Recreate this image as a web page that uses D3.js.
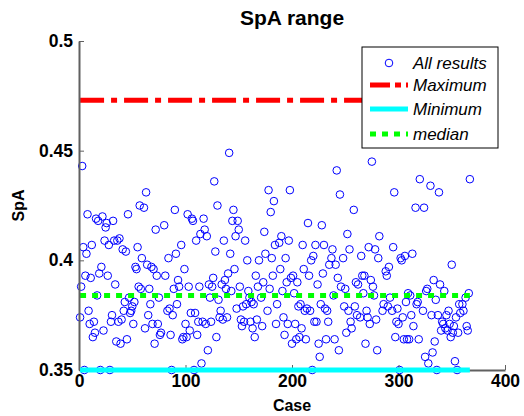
<!DOCTYPE html>
<html>
<head>
<meta charset="utf-8">
<script src="https://cdn.jsdelivr.net/npm/d3@7"></script>
<style>
  html, body { margin: 0; padding: 0; background: #fff; }
  svg { display: block; font-family: Arial, "Liberation Sans", Helvetica, sans-serif; }
</style>
</head>
<body>
<svg id="chart" width="524" height="416"></svg>
<script>
// Case numbers and the SpA value obtained for each case
const caseNo = [
  1,2,3,4,5,6,7,8,9,10,11,12,13,14,15,16,17,18,19,20,
  21,22,23,24,25,26,27,28,29,30,31,32,33,34,35,36,37,38,39,40,
  41,42,43,44,45,46,47,48,49,50,51,52,53,54,55,56,57,58,59,61,
  62,63,64,65,66,67,68,69,70,71,72,73,74,75,76,77,80,81,83,84,
  85,86,87,88,89,90,91,92,93,94,96,97,98,99,100,101,102,103,104,105,
  106,107,108,109,110,111,112,113,114,115,116,117,118,119,120,121,122,123,124,125,
  126,127,128,129,130,131,132,133,134,135,136,137,138,139,140,141,142,143,144,145,
  146,147,148,149,150,151,152,153,154,155,156,157,158,159,160,161,162,163,164,165,
  166,167,168,169,171,172,173,174,175,177,178,179,180,181,182,183,184,185,186,188,
  189,190,191,192,193,194,195,196,197,198,199,200,201,202,203,204,205,206,207,208,
  209,210,211,212,213,214,215,216,217,218,219,220,221,222,223,224,225,226,227,228,
  229,230,231,232,233,234,235,237,238,239,240,241,242,243,244,245,246,248,249,250,
  251,252,253,254,255,256,258,259,260,261,262,264,265,266,267,268,269,270,271,272,
  273,274,275,276,277,278,279,280,281,282,285,286,288,289,290,291,292,294,295,296,
  297,298,299,300,301,302,303,304,305,306,307,308,309,310,311,312,313,314,316,317,
  318,319,320,323,324,325,326,327,328,330,331,332,333,334,335,336,337,338,339,340,
  341,342,343,344,345,346,347,348,349,350,351,352,353,354,355,356,357,358,360,361,
  363,364,365,366,367
];
const spa = [
  .374,.388,.443,.406,.350,.393,.403,.421,.377,.371,.392,.407,.365,.372,.367,.419,.384,.418,.394,.350,
  .397,.420,.368,.409,.415,.417,.393,.407,.350,.372,.375,.418,.409,.389,.363,.409,.372,.410,.362,.373,
  .405,.377,.381,.404,.364,.421,.383,.376,.377,.379,.371,.381,.397,.396,.406,.388,.425,.387,.401,.424,
  .369,.431,.398,.375,.387,.380,.397,.371,.396,.362,.414,.393,.371,.383,.366,.367,.416,.393,.377,.401,
  .378,.366,.350,.375,.387,.423,.403,.380,.391,.388,.407,.364,.365,.396,.371,.365,.421,.388,.368,.376,
  .419,.418,.350,.376,.409,.366,.372,.388,.412,.353,.372,.419,.414,.371,.411,.359,.389,.383,.372,.388,
  .392,.436,.404,.365,.425,.382,.374,.377,.389,.373,.409,.391,.387,.374,.394,.449,.403,.386,.418,.423,
  .396,.411,.378,.418,.414,.388,.373,.370,.379,.372,.409,.380,.400,.386,.383,.372,.381,.369,.380,.365,
  .393,.373,.388,.400,.383,.370,.390,.413,.403,.377,.432,.387,.422,.401,.393,.427,.407,.371,.380,.408,
  .396,.411,.386,.374,.366,.401,.390,.371,.409,.432,.392,.362,.393,.385,.371,.364,.390,.379,.365,.380,
  .369,.407,.396,.377,.364,.378,.417,.393,.377,.400,.350,.402,.372,.407,.372,.389,.362,.356,.380,.416,
  .394,.407,.378,.364,.377,.372,.398,.401,.405,.384,.364,.398,.441,.392,.359,.430,.388,.401,.379,.387,
  .367,.412,.377,.405,.372,.369,.423,.379,.390,.375,.389,.374,.402,.393,.385,.393,.362,.377,.374,.406,
  .371,.391,.445,.388,.384,.405,.373,.359,.401,.411,.377,.380,.395,.393,.379,.397,.383,.377,.406,.431,
  .365,.372,.378,.371,.350,.401,.400,.374,.364,.402,.381,.364,.385,.364,.384,.375,.403,.370,.424,.380,
  .381,.364,.437,.377,.424,.356,.386,.387,.353,.434,.375,.358,.391,.363,.382,.350,.375,.431,.389,.368,
  .372,.371,.386,.369,.375,.368,.377,.371,.365,.398,.367,.370,.354,.374,.350,.367,.380,.376,.380,.377,
  .383,.370,.368,.385,.437
];

// Reference levels
const maximumSpA = 0.473;
const minimumSpA = 0.350;
const medianSpA  = 0.384;

// Axis ticks
const xTicks = [0, 100, 200, 300, 400];
const yTicks = [0.35, 0.4, 0.45, 0.5];
const yTickLabels = ["0.35", "0.4", "0.45", "0.5"];

const legendLabels = ["All results", "Maximum", "Minimum", "median"];

const svg = d3.select("#chart");
const plotL = 79, plotR = 505, plotT = 41, plotB = 370;

const x = d3.scaleLinear().domain([0, 400]).range([plotL, plotR]);
const y = d3.scaleLinear().domain([0.35, 0.5]).range([plotB, plotT]);

const points = caseNo.map((c, i) => ({ c, v: spa[i] }));
const firstCase = d3.min(caseNo), lastCase = d3.max(caseNo);

// Scatter of all results
svg.append("g")
  .selectAll("circle")
  .data(points)
  .join("circle")
  .attr("cx", d => x(d.c))
  .attr("cy", d => y(d.v))
  .attr("r", 3.8)
  .attr("fill", "none")
  .attr("stroke", "#0000ff")
  .attr("stroke-width", 1);

// Horizontal reference lines across all cases
function hline(value, color, width, dash) {
  svg.append("line")
    .attr("x1", x(firstCase)).attr("x2", x(lastCase))
    .attr("y1", y(value)).attr("y2", y(value))
    .attr("stroke", color)
    .attr("stroke-width", width)
    .attr("stroke-dasharray", dash);
}
hline(maximumSpA, "#ff0000", 5, "24,7,6,7");
hline(medianSpA, "#00ff00", 5, "6,6");

// Axes (left and bottom only, ticks pointing inward)
const axisColor = "#606060";
const yAxis = svg.append("g")
  .attr("transform", `translate(${plotL},0)`)
  .call(d3.axisLeft(y).tickValues(yTicks).tickFormat((d, i) => yTickLabels[i])
        .tickSizeInner(-5).tickSizeOuter(0).tickPadding(6));
const xAxis = svg.append("g")
  .attr("transform", `translate(0,${plotB})`)
  .call(d3.axisBottom(x).tickValues(xTicks).tickFormat(d3.format("d"))
        .tickSizeInner(-5).tickSizeOuter(0).tickPadding(5));

[yAxis, xAxis].forEach(g => {
  g.select(".domain").attr("stroke", axisColor).attr("stroke-width", 2);
  g.selectAll(".tick line").attr("stroke", axisColor).attr("stroke-width", 1);
  g.selectAll(".tick text")
    .attr("fill", "#000")
    .style("font-size", "17.5px")
    .style("font-weight", "bold")
    .style("font-family", "Arial, 'Liberation Sans', sans-serif");
});
// minimum line sits over the bottom axis
hline(minimumSpA, "#00ffff", 5, null);

// Title and axis labels
svg.append("text")
  .attr("x", (plotL + plotR) / 2).attr("y", 25)
  .attr("text-anchor", "middle")
  .style("font-size", "21px").style("font-weight", "bold")
  .text("SpA range");

svg.append("text")
  .attr("transform", `translate(24,${(plotT + plotB) / 2}) rotate(-90)`)
  .attr("text-anchor", "middle")
  .style("font-size", "16px").style("font-weight", "bold")
  .text("SpA");

svg.append("text")
  .attr("x", (plotL + plotR) / 2).attr("y", 411)
  .attr("text-anchor", "middle")
  .style("font-size", "16px").style("font-weight", "bold")
  .text("Case");

// Legend
const lg = svg.append("g").attr("transform", "translate(362,47)");
lg.append("rect")
  .attr("width", 136).attr("height", 101)
  .attr("fill", "#fff").attr("stroke", "#000").attr("stroke-width", 1);

const rowY = [16, 38, 62, 87];
const sample = lg.append("g");
sample.append("circle").attr("cx", 27).attr("cy", rowY[0]).attr("r", 3.8)
  .attr("fill", "none").attr("stroke", "#0000ff");
sample.append("line").attr("x1", 8).attr("x2", 46).attr("y1", rowY[1]).attr("y2", rowY[1])
  .attr("stroke", "#ff0000").attr("stroke-width", 5).attr("stroke-dasharray", "20,5,6,5");
sample.append("line").attr("x1", 8).attr("x2", 46).attr("y1", rowY[2]).attr("y2", rowY[2])
  .attr("stroke", "#00ffff").attr("stroke-width", 5);
sample.append("line").attr("x1", 8).attr("x2", 46).attr("y1", rowY[3]).attr("y2", rowY[3])
  .attr("stroke", "#00ff00").attr("stroke-width", 5).attr("stroke-dasharray", "6,6");

lg.selectAll("text.lab")
  .data(legendLabels)
  .join("text")
  .attr("class", "lab")
  .attr("x", 51)
  .attr("y", (d, i) => rowY[i] + 6)
  .style("font-size", "17px")
  .style("font-style", "italic")
  .text(d => d);
</script>
</body>
</html>
